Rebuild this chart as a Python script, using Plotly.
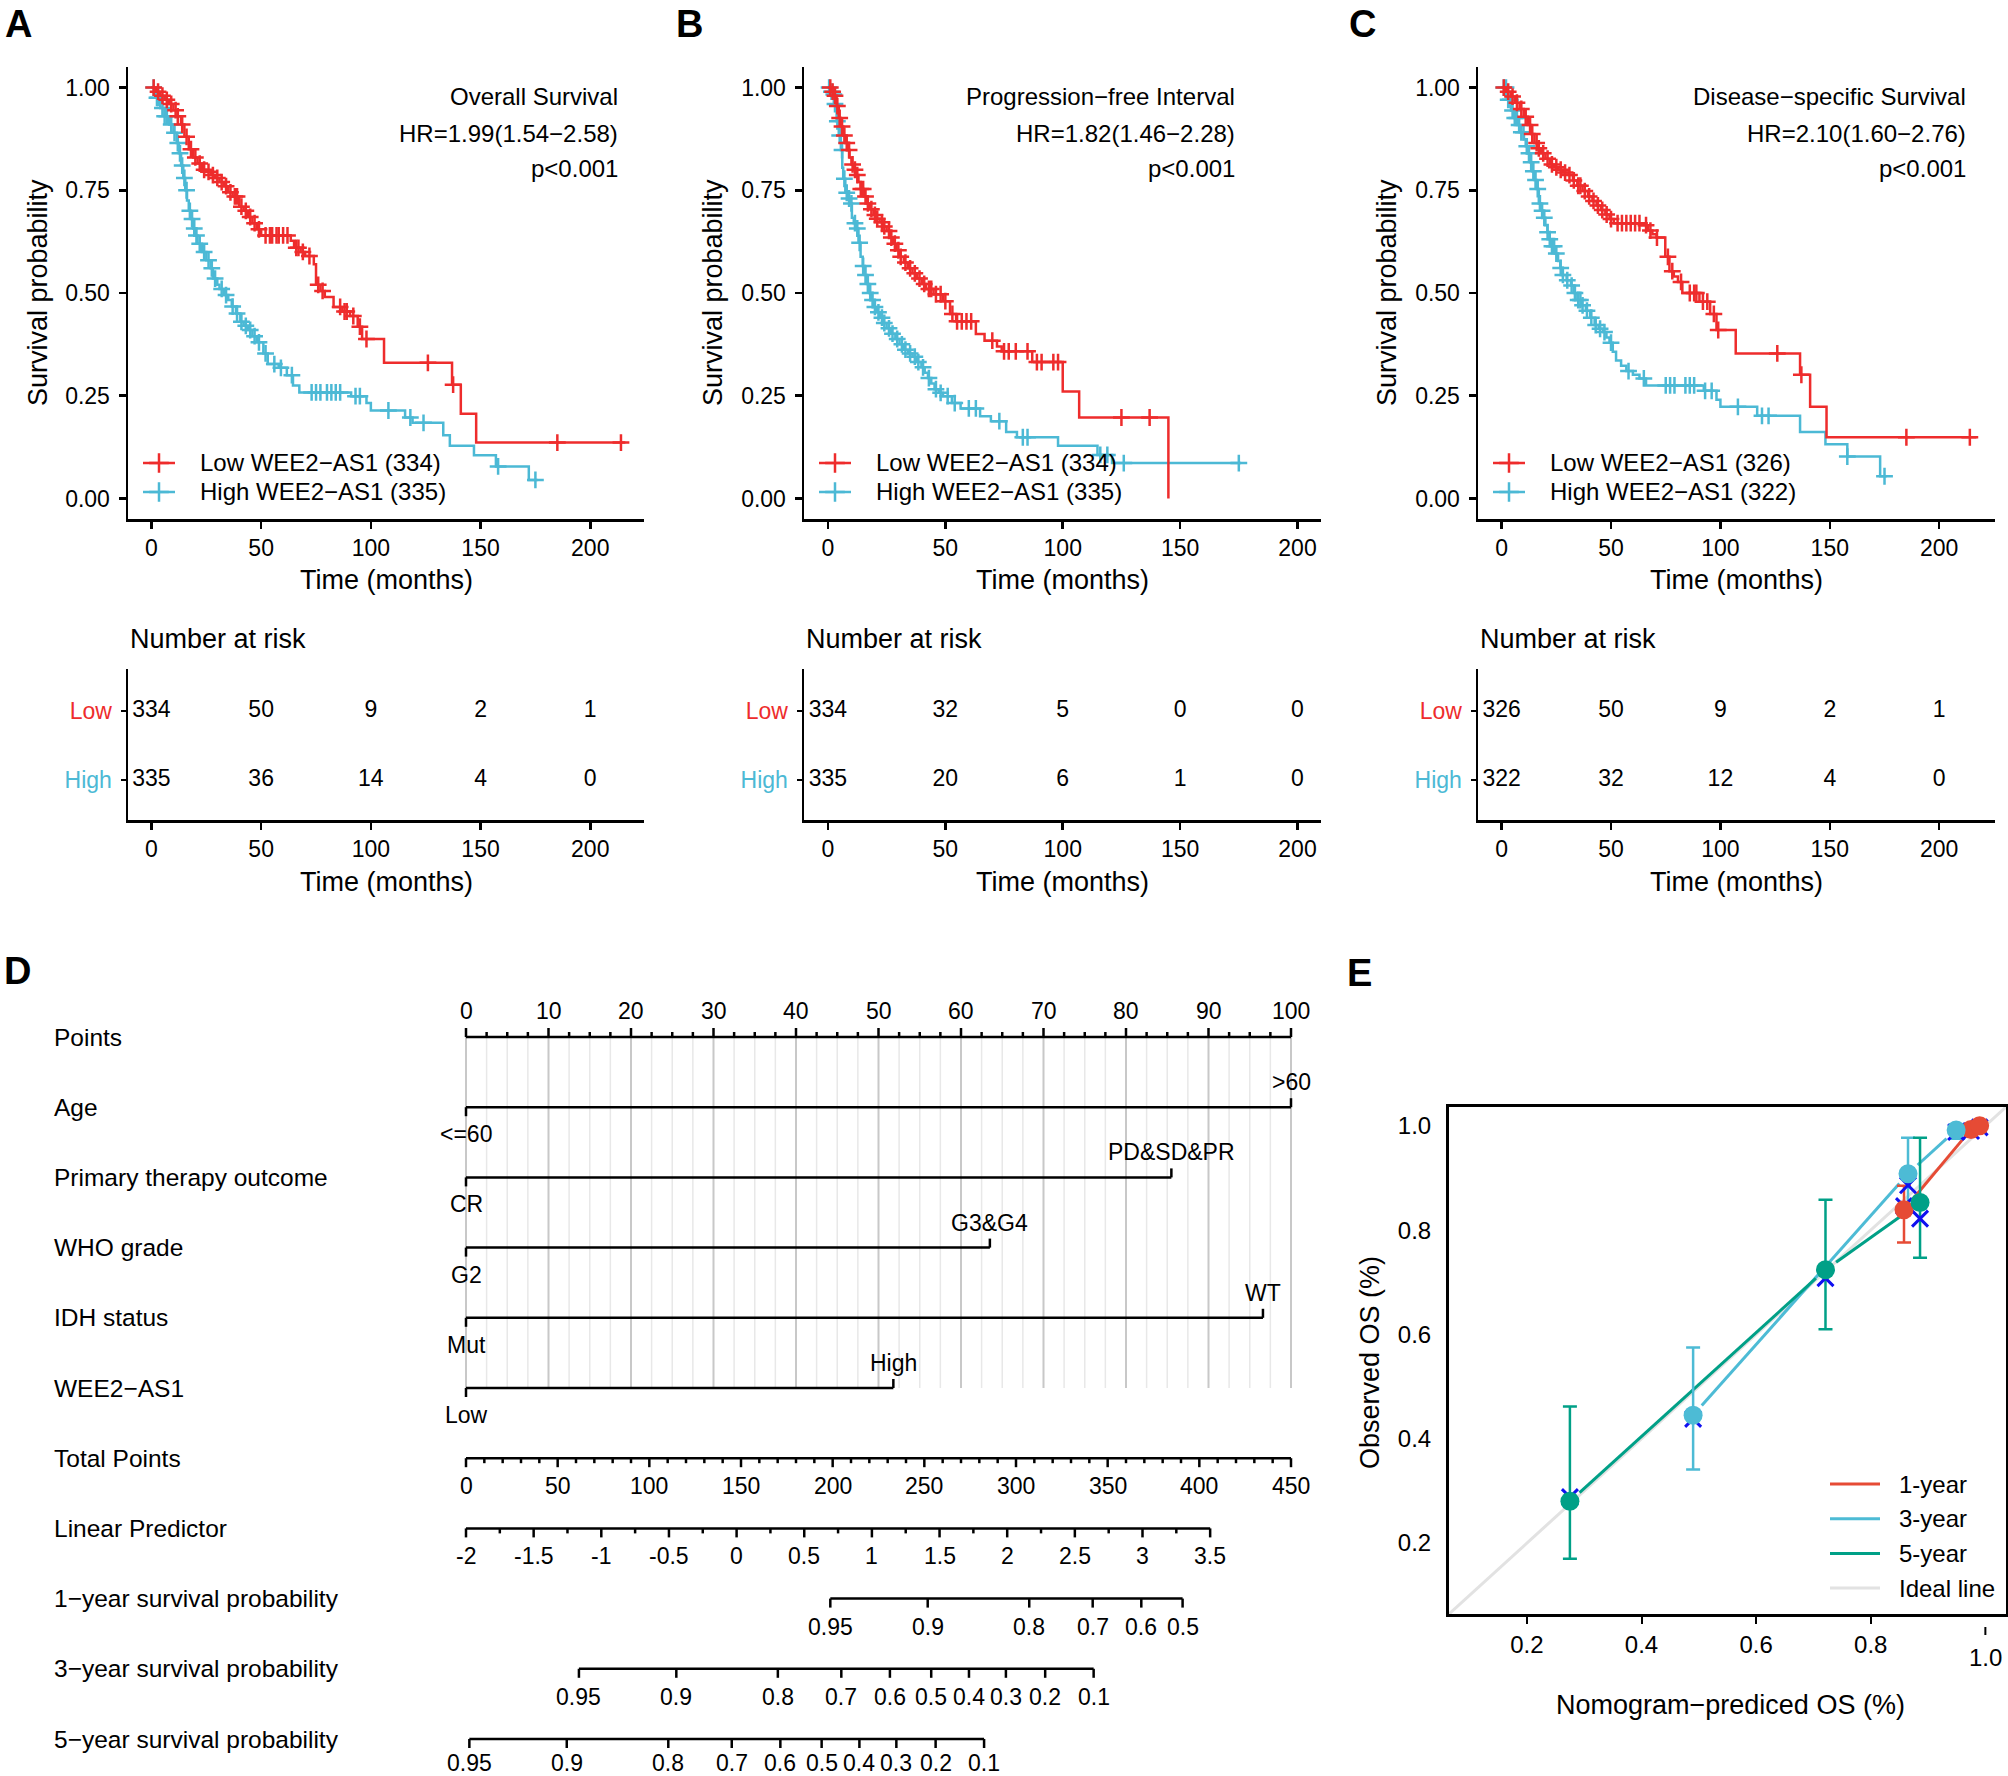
import numpy as np
import plotly.graph_objects as go

W, H = 2008, 1776
FONT = "Liberation Sans, Arial, Helvetica, sans-serif"
KM_RED = "#EE2C2C"
KM_BLUE = "#4CB9D5"
CAL_RED = "#E64B35"
CAL_BLUE = "#4DBBD5"
CAL_GREEN = "#00A087"
MINUS = "\u2212"

# ------------------------------------------------------------------ data
# Panel A : Overall survival
A_low_t = [0, 2, 4, 6, 8, 10, 12, 13.5, 15, 17, 19, 21, 23, 25, 27, 29, 31, 33, 35, 37, 40, 42, 44, 46, 48, 50,
           63.5, 65, 68, 70, 74, 75, 77, 79, 83, 87, 90.5, 94, 96, 106, 137, 141, 148]
A_low_s = [1.0, 0.99, 0.98, 0.97, 0.96, 0.945, 0.93, 0.91, 0.88, 0.85, 0.83, 0.815, 0.80, 0.795, 0.787, 0.78,
           0.77, 0.76, 0.745, 0.735, 0.71, 0.70, 0.685, 0.67, 0.655, 0.64, 0.627, 0.61, 0.60, 0.59, 0.57, 0.52,
           0.505, 0.49, 0.466, 0.455, 0.444, 0.418, 0.388, 0.33, 0.277, 0.206, 0.136]
A_low_end = 216
A_low_cens = [1, 3, 5, 7, 9, 11, 12, 14, 16, 18, 20, 22, 24, 26, 28, 30, 32, 34, 36, 38, 39, 41, 43, 45, 47, 49,
              52, 54, 55, 57, 58, 60, 62, 66, 67, 69, 72, 76, 78, 86, 88, 89, 92, 95, 98, 126, 137.5, 185, 214]
A_high_t = [0, 2, 4, 6, 8, 10, 11.5, 12.5, 13.5, 14.5, 15.4, 16.2, 17, 18, 19, 20, 21, 23, 25, 27, 28, 30, 31,
            33, 35, 36.6, 38.5, 40.5, 42, 44, 46, 48, 51, 53, 58, 61.7, 64.5, 67.4, 91, 98, 100, 115.6, 119, 133,
            136, 147, 157, 172]
A_high_s = [1.0, 0.975, 0.95, 0.93, 0.91, 0.89, 0.865, 0.84, 0.81, 0.78, 0.75, 0.725, 0.70, 0.68, 0.657, 0.64,
            0.62, 0.60, 0.58, 0.56, 0.535, 0.52, 0.51, 0.495, 0.483, 0.467, 0.45, 0.43, 0.42, 0.41, 0.395, 0.38,
            0.353, 0.327, 0.318, 0.30, 0.275, 0.258, 0.249, 0.232, 0.214, 0.197, 0.184, 0.154, 0.128, 0.105,
            0.078, 0.045]
A_high_end = 176
A_high_cens = [1, 2.5, 3, 5, 6, 7, 9, 10.5, 12, 13, 14, 15, 16, 17.5, 18.5, 19.5, 20.5, 22, 24, 26, 27.5, 29,
               32, 34, 37, 39, 41, 43, 45, 47, 49, 52, 56, 59, 64, 73, 75, 77, 80, 82, 84, 86, 93, 95, 108, 118,
               124, 158, 175]

# Panel B : Progression-free interval
B_low_t = [0, 1.5, 2.8, 3.7, 4.6, 5.5, 6.5, 7.4, 8.3, 9.2, 10, 11, 12, 13, 13.9, 15.3, 16.7, 18, 19.4, 20.7, 22,
           23.5, 25, 26.4, 27.8, 29.2, 30.6, 32.3, 34, 36, 38, 40, 41.7, 45, 49, 52, 54.6, 63, 66.7, 72, 74, 87,
           100, 107, 145]
B_low_s = [1.0, 0.99, 0.98, 0.955, 0.926, 0.905, 0.883, 0.865, 0.848, 0.83, 0.813, 0.80, 0.787, 0.77, 0.753,
           0.735, 0.718, 0.704, 0.69, 0.681, 0.672, 0.662, 0.651, 0.635, 0.62, 0.604, 0.588, 0.574, 0.56, 0.548,
           0.535, 0.522, 0.51, 0.497, 0.48, 0.449, 0.431, 0.40, 0.384, 0.37, 0.358, 0.332, 0.26, 0.197, 0.0]
B_low_end = 145
B_low_cens = [1, 2, 3, 4, 5, 6, 7, 8, 9, 10.5, 11.5, 12.5, 14, 15, 16, 17, 18.5, 20, 21, 23, 24, 26, 27, 28.5,
              30, 31, 33, 35, 37, 39, 41, 43, 44, 46, 48, 50, 53, 55, 57, 59, 61, 70, 75, 77, 80, 85, 89, 91, 96,
              98, 125, 137]
B_high_t = [0, 1, 1.9, 2.8, 3.7, 4.6, 5.5, 6.1, 6.5, 7.4, 8.3, 9.3, 10.2, 11, 12, 13, 13.9, 14.8, 15.7, 16.6,
            17.6, 18.5, 19.4, 20.8, 22.2, 23.6, 25, 26.8, 28.7, 30.5, 32.4, 34.2, 36, 37.9, 39.8, 41.2, 42.6, 44,
            45.4, 47.2, 49, 52.8, 56.5, 64.8, 69.4, 75.9, 80.5, 98, 114.8, 121]
B_high_s = [1.0, 0.99, 0.983, 0.96, 0.918, 0.883, 0.848, 0.805, 0.778, 0.744, 0.73, 0.718, 0.683, 0.67, 0.657,
            0.622, 0.588, 0.566, 0.544, 0.522, 0.5, 0.483, 0.466, 0.453, 0.44, 0.427, 0.414, 0.401, 0.388, 0.375,
            0.362, 0.353, 0.345, 0.332, 0.319, 0.306, 0.293, 0.28, 0.266, 0.257, 0.249, 0.232, 0.219, 0.2, 0.188,
            0.162, 0.149, 0.128, 0.106, 0.086]
B_high_end = 176
B_high_cens = [0.5, 1.5, 2.5, 3, 4, 5, 6, 7, 8, 9, 10, 11.5, 12.5, 13.5, 15, 16, 17, 18, 19, 20, 21.5, 23, 24,
               26, 27.5, 29.5, 31.5, 33, 35, 37, 38.5, 40.5, 43, 46, 48, 51, 54, 60, 63, 73, 83, 85, 116, 119, 126,
               175]

# Panel C : Disease-specific survival
C_low_t = [0, 2, 4.3, 6.2, 8.2, 10.1, 12, 13.5, 15, 16.5, 18, 20, 22, 24, 25.8, 28, 30.7, 32.6, 34.6, 37, 39.5,
           41.5, 43.4, 45.4, 47.4, 49.3, 51.3, 64, 66.9, 68.9, 70.8, 74.8, 76.7, 78.7, 80.6, 82.6, 90.4, 95.3,
           98.2, 107, 136.4, 141, 148.5]
C_low_s = [1.0, 0.99, 0.978, 0.963, 0.948, 0.929, 0.909, 0.887, 0.865, 0.852, 0.84, 0.827, 0.813, 0.806, 0.80,
           0.793, 0.787, 0.774, 0.761, 0.748, 0.735, 0.724, 0.713, 0.702, 0.691, 0.68, 0.67, 0.665, 0.652, 0.643,
           0.635, 0.588, 0.553, 0.54, 0.527, 0.50, 0.479, 0.449, 0.41, 0.353, 0.301, 0.223, 0.149]
C_low_end = 217
C_low_cens = [1, 3, 5, 7, 9, 11, 13, 14, 16, 17, 19, 21, 23, 25, 27, 29, 31, 33, 35, 36, 38, 40, 42, 44, 46, 48,
              50, 53, 55, 57, 59, 61, 63, 66, 68, 71, 76, 78, 82, 86, 88, 89, 92, 94, 97, 99, 126, 137, 185, 214]
C_high_t = [0, 2.3, 4.3, 5.8, 7.2, 8.7, 10.2, 11, 12, 13, 14, 15, 16, 17, 18, 19, 20, 20.9, 21.9, 22.9, 24.3,
            25.8, 26.8, 27.8, 29.7, 31.7, 33.1, 34.6, 36.5, 38.5, 40.5, 42.5, 44.4, 46.4, 47.9, 49.3, 50.8, 52.3,
            54.6, 57, 60, 63, 66, 92.4, 98.2, 100, 116.8, 136.4, 148, 158, 173]
C_high_s = [1.0, 0.97, 0.944, 0.926, 0.909, 0.891, 0.874, 0.857, 0.84, 0.818, 0.796, 0.775, 0.753, 0.718, 0.70,
            0.683, 0.665, 0.648, 0.631, 0.614, 0.596, 0.578, 0.561, 0.544, 0.531, 0.518, 0.50, 0.483, 0.47, 0.457,
            0.44, 0.422, 0.413, 0.405, 0.392, 0.379, 0.357, 0.336, 0.323, 0.31, 0.301, 0.292, 0.275, 0.262, 0.24,
            0.223, 0.201, 0.162, 0.132, 0.102, 0.054]
C_high_end = 176
C_high_cens = [1, 2, 3, 4, 5, 6, 7, 8, 9, 10, 11.5, 12.5, 13.5, 14.5, 15.5, 16.5, 17.5, 18.5, 19.5, 21, 22, 23,
               24, 25, 27, 28, 30, 32, 33.5, 35, 36, 37, 39, 41, 43, 45, 47, 50, 58, 65, 75, 77, 79, 84, 86, 88,
               93, 96, 108, 119, 122, 158, 175]

KM_TITLES = ["Overall Survival", "Progression" + MINUS + "free Interval", "Disease" + MINUS + "specific Survival"]
KM_HR = ["HR=1.99(1.54" + MINUS + "2.58)", "HR=1.82(1.46" + MINUS + "2.28)", "HR=2.10(1.60" + MINUS + "2.76)"]
KM_P = ["p<0.001", "p<0.001", "p<0.001"]
KM_N_LOW = [334, 334, 326]
KM_N_HIGH = [335, 335, 322]

RISK_TIMES = [0, 50, 100, 150, 200]
A_risk_low = [334, 50, 9, 2, 1]
A_risk_high = [335, 36, 14, 4, 0]
B_risk_low = [334, 32, 5, 0, 0]
B_risk_high = [335, 20, 6, 1, 0]
C_risk_low = [326, 50, 9, 2, 1]
C_risk_high = [322, 32, 12, 4, 0]

# Panel D : nomogram
NOM_VARS = ["Age", "Primary therapy outcome", "WHO grade", "IDH status", "WEE2" + MINUS + "AS1"]
NOM_MAX_POINTS = [100, 85.5, 63.5, 96.6, 51.8]
NOM_LOW_LEVEL = ["<=60", "CR", "G2", "Mut", "Low"]
NOM_HIGH_LEVEL = [">60", "PD&SD&PR", "G3&G4", "WT", "High"]
POINTS_MAX = 100
TOTAL_MAX = 450
LP_AT_TP0 = -2.0
TP_PER_LP = 73.8
LP_TICKS = [-2, -1.5, -1, -0.5, 0, 0.5, 1, 1.5, 2, 2.5, 3, 3.5]
BASE_CUMHAZ = [0.02566, 0.1645, 0.3697]   # 1-, 3-, 5-year baseline cumulative hazard
SURV_LABELS = ["1" + MINUS + "year survival probability", "3" + MINUS + "year survival probability",
               "5" + MINUS + "year survival probability"]
SURV_TICKS_1Y = [0.95, 0.9, 0.8, 0.7, 0.6, 0.5]
SURV_TICKS_3Y = [0.95, 0.9, 0.8, 0.7, 0.6, 0.5, 0.4, 0.3, 0.2, 0.1]
SURV_TICKS_5Y = [0.95, 0.9, 0.8, 0.7, 0.6, 0.5, 0.4, 0.3, 0.2, 0.1]

# Panel E : calibration
CAL_1Y_PRED = [0.858, 0.975, 0.990]
CAL_1Y_OBS = [0.839, 0.993, 1.000]
CAL_1Y_LO = [0.776, 0.985, 0.995]
CAL_1Y_HI = [0.885, 1.000, 1.000]
CAL_1Y_CORR = [0.846, 0.990, 0.997]
CAL_3Y_PRED = [0.490, 0.865, 0.949]
CAL_3Y_OBS = [0.445, 0.908, 0.992]
CAL_3Y_LO = [0.341, 0.843, 0.975]
CAL_3Y_HI = [0.575, 0.977, 1.000]
CAL_3Y_CORR = [0.438, 0.886, 0.988]
CAL_5Y_PRED = [0.275, 0.721, 0.886]
CAL_5Y_OBS = [0.280, 0.724, 0.853]
CAL_5Y_LO = [0.170, 0.610, 0.747]
CAL_5Y_HI = [0.462, 0.858, 0.977]
CAL_5Y_CORR = [0.288, 0.708, 0.822]
CAL_LEGEND = ["1-year", "3-year", "5-year", "Ideal line"]


# ------------------------------------------------------------------ helpers
def PX(x):
    return x / W


def PY(y):
    return 1 - y / H


fig = go.Figure()
annotations = []
shapes = []
layout_axes = {}


def ann(text, x, y, xref="paper", yref="paper", size=24, xanchor="center", yanchor="middle", color="black",
        angle=0, bold=False):
    annotations.append(dict(text=("<b>%s</b>" % text) if bold else text, x=x, y=y, xref=xref, yref=yref,
                            showarrow=False, xanchor=xanchor, yanchor=yanchor, textangle=angle,
                            font=dict(size=size, color=color, family=FONT)))


# pixel overlay axis (9) for legend glyphs
layout_axes["xaxis9"] = dict(domain=[0, 1], range=[0, W], visible=False, anchor="y9", fixedrange=True)
layout_axes["yaxis9"] = dict(domain=[0, 1], range=[H, 0], visible=False, anchor="x9", fixedrange=True)

# ------------------------------------------------------------------ KM panels
KM_LAYOUT = [
    dict(x0=128, x1=644, xr=[-10.7, 224.5], tx=620, ytitle_x=38, letter="A", lx=18),
    dict(x0=804, x1=1321, xr=[-10.2, 210.0], tx=1237, ytitle_x=713, letter="B", lx=689),
    dict(x0=1478, x1=1995, xr=[-10.8, 225.5], tx=1968, ytitle_x=1387, letter="C", lx=1362),
]
KM_DATA = [
    (A_low_t, A_low_s, A_low_end, A_low_cens, A_high_t, A_high_s, A_high_end, A_high_cens, A_risk_low, A_risk_high),
    (B_low_t, B_low_s, B_low_end, B_low_cens, B_high_t, B_high_s, B_high_end, B_high_cens, B_risk_low, B_risk_high),
    (C_low_t, C_low_s, C_low_end, C_low_cens, C_high_t, C_high_s, C_high_end, C_high_cens, C_risk_low, C_risk_high),
]


def step_xy(t, s, end):
    x, y = list(t), list(s)
    if end > t[-1]:
        x.append(end)
        y.append(s[-1])
    return x, y


def cens_y(t, s, c):
    idx = np.searchsorted(np.array(t, float), np.array(c, float), side="right") - 1
    return list(np.array(s, float)[idx])


axis_line = dict(showline=True, linecolor="black", linewidth=2.5, ticks="outside", ticklen=7, tickwidth=2.5,
                 tickcolor="black", showgrid=False, zeroline=False, fixedrange=True)

for i, (lay, dat) in enumerate(zip(KM_LAYOUT, KM_DATA)):
    lt, ls, le, lc, ht, hs, he, hc, rl, rh = dat
    k = i + 1          # KM axis index
    r = i + 4          # risk-table axis index
    xd = [PX(lay["x0"]), PX(lay["x1"])]
    layout_axes["xaxis%d" % k] = dict(axis_line, domain=xd, range=lay["xr"], anchor="y%d" % k,
                                      tickvals=RISK_TIMES, tickfont=dict(size=23, color="black"),
                                      ticklabelstandoff=0)
    layout_axes["yaxis%d" % k] = dict(axis_line, domain=[PY(519), PY(67)], range=[-0.05, 1.05], anchor="x%d" % k,
                                      tickvals=[0, 0.25, 0.5, 0.75, 1.0],
                                      ticktext=["0.00", "0.25", "0.50", "0.75", "1.00"],
                                      tickfont=dict(size=23, color="black"), ticklabelstandoff=4)
    layout_axes["xaxis%d" % r] = dict(axis_line, domain=xd, range=lay["xr"], anchor="y%d" % r,
                                      tickvals=RISK_TIMES, tickfont=dict(size=23, color="black"),
                                      ticklabelstandoff=0)
    layout_axes["yaxis%d" % r] = dict(axis_line, domain=[PY(820), PY(669)], range=[0.42, 2.61], anchor="x%d" % r,
                                      tickvals=[1, 2],
                                      ticktext=['<span style="color:%s">High</span>' % KM_BLUE,
                                                '<span style="color:%s">Low</span>' % KM_RED],
                                      tickfont=dict(size=23), ticklen=5, ticklabelstandoff=4)
    xa, ya = "x%d" % k, "y%d" % k
    for (t, s, e, c, col) in [(ht, hs, he, hc, KM_BLUE), (lt, ls, le, lc, KM_RED)]:
        x, y = step_xy(t, s, e)
        fig.add_trace(go.Scatter(x=x, y=y, mode="lines", line=dict(color=col, width=2.5, shape="hv"),
                                 xaxis=xa, yaxis=ya, hoverinfo="skip"))
        fig.add_trace(go.Scatter(x=c, y=cens_y(t, s, c), mode="markers", xaxis=xa, yaxis=ya, hoverinfo="skip",
                                 marker=dict(symbol="cross-thin", size=12, line=dict(color=col, width=2.5))))
    # risk table numbers
    fig.add_trace(go.Scatter(x=RISK_TIMES, y=[2] * len(rl), mode="text", text=[str(v) for v in rl],
                             textfont=dict(size=23, color="black", family=FONT), xaxis="x%d" % r,
                             yaxis="y%d" % r, hoverinfo="skip", cliponaxis=False))
    fig.add_trace(go.Scatter(x=RISK_TIMES, y=[1] * len(rh), mode="text", text=[str(v) for v in rh],
                             textfont=dict(size=23, color="black", family=FONT), xaxis="x%d" % r,
                             yaxis="y%d" % r, hoverinfo="skip", cliponaxis=False))
    # annotations
    ann(KM_TITLES[i], PX(lay["tx"]), PY(96), xanchor="right")
    ann(KM_HR[i], PX(lay["tx"]), PY(133), xanchor="right")
    ann(KM_P[i], PX(lay["tx"]), PY(169), xanchor="right")
    ann("Survival probability", PX(lay["ytitle_x"]), PY(293), size=27, angle=-90)
    xc = PX((lay["x0"] + lay["x1"]) / 2)
    ann("Time (months)", xc, PY(580), size=27)
    ann("Time (months)", xc, PY(882), size=27)
    ann("Number at risk", PX(lay["x0"]), PY(639), size=27, xanchor="left")
    ann(lay["letter"], PX(lay["lx"]), PY(24), size=38, bold=True)
    # legend
    for (lbl, n, col, yy) in [("Low", KM_N_LOW[i], KM_RED, 463), ("High", KM_N_HIGH[i], KM_BLUE, 492)]:
        gx0, gx1 = lay["x0"] + 15, lay["x0"] + 47
        fig.add_trace(go.Scatter(x=[gx0, gx1], y=[yy, yy], mode="lines", line=dict(color=col, width=2.5),
                                 xaxis="x9", yaxis="y9", hoverinfo="skip"))
        fig.add_trace(go.Scatter(x=[(gx0 + gx1) / 2], y=[yy], mode="markers", xaxis="x9", yaxis="y9",
                                 hoverinfo="skip",
                                 marker=dict(symbol="cross-thin", size=14, line=dict(color=col, width=2.5))))
        ann("%s WEE2%sAS1 (%d)" % (lbl, MINUS, n), PX(lay["x0"] + 70), PY(yy), xanchor="left")

# ------------------------------------------------------------------ nomogram (D)
ROW0_PX, ROW_SP = 1037.0, 70.2
NOM_PX0, NOM_PX1 = 466.0, 1291.0
px_per_tp = (NOM_PX1 - NOM_PX0) / TOTAL_MAX
layout_axes["xaxis7"] = dict(domain=[PX(440), PX(1330)],
                             range=[(440 - NOM_PX0) / px_per_tp, (1330 - NOM_PX0) / px_per_tp],
                             visible=False, anchor="y7", fixedrange=True)
layout_axes["yaxis7"] = dict(domain=[0, PY(940)], range=[(H - ROW0_PX) / ROW_SP, (940 - ROW0_PX) / ROW_SP],
                             visible=False, anchor="x7", fixedrange=True)
MAJ, MIN = 9 / ROW_SP, 5 / ROW_SP
LAB_UP, LAB_DN = 26 / ROW_SP, 28 / ROW_SP
PT2TP = TOTAL_MAX / POINTS_MAX


def seg_trace(segs, color="black", width=2.5):
    xs, ys = [], []
    for (x0, y0, x1, y1) in segs:
        xs += [x0, x1, None]
        ys += [y0, y1, None]
    fig.add_trace(go.Scatter(x=xs, y=ys, mode="lines", line=dict(color=color, width=width), xaxis="x7",
                             yaxis="y7", hoverinfo="skip", cliponaxis=False))


def nann(text, x, y, size=23):
    ann(text, x, y, xref="x7", yref="y7", size=size)


# grid
grid_pts = np.arange(0, POINTS_MAX + 0.01, 2.5)
n_rows_var = len(NOM_VARS)
seg_trace([(p * PT2TP, 0, p * PT2TP, n_rows_var) for p in grid_pts if p % 10 != 0], color="#E8E8E8", width=1.5)
seg_trace([(p * PT2TP, 0, p * PT2TP, n_rows_var) for p in grid_pts if p % 10 == 0], color="#C8C8C8", width=2)

rows_labels = ["Points"] + NOM_VARS + ["Total Points", "Linear Predictor"] + SURV_LABELS
for ri, lbl in enumerate(rows_labels):
    ann(lbl, PX(52), ri, yref="y7", size=24.5, xanchor="left")

segs = []
# points axis (row 0)
segs.append((0, 0, POINTS_MAX * PT2TP, 0))
for p in grid_pts:
    segs.append((p * PT2TP, 0, p * PT2TP, -(MAJ if p % 10 == 0 else MIN)))
for p in range(0, POINTS_MAX + 1, 10):
    nann(str(p), p * PT2TP, -LAB_UP)
# variables
for vi, (mx, lo, hi) in enumerate(zip(NOM_MAX_POINTS, NOM_LOW_LEVEL, NOM_HIGH_LEVEL)):
    rr = vi + 1
    end = mx * PT2TP
    segs.append((0, rr, end, rr))
    segs.append((0, rr, 0, rr + MAJ))
    segs.append((end, rr, end, rr - MAJ))
    nann(lo, 0, rr + LAB_DN - 1 / ROW_SP)
    nann(hi, end, rr - LAB_UP + 1 / ROW_SP)
# total points
rr = n_rows_var + 1
segs.append((0, rr, TOTAL_MAX, rr))
for tp in range(0, TOTAL_MAX + 1, 10):
    segs.append((tp, rr, tp, rr + (MAJ if tp % 50 == 0 else MIN)))
for tp in range(0, TOTAL_MAX + 1, 50):
    nann(str(tp), tp, rr + LAB_DN)
# linear predictor
rr += 1


def lp_to_tp(lp):
    return (lp - LP_AT_TP0) * TP_PER_LP


segs.append((lp_to_tp(LP_TICKS[0]), rr, lp_to_tp(LP_TICKS[-1]), rr))
for j, lp in enumerate(LP_TICKS):
    segs.append((lp_to_tp(lp), rr, lp_to_tp(lp), rr + MAJ))
    if j < len(LP_TICKS) - 1:
        mid = (lp + LP_TICKS[j + 1]) / 2
        segs.append((lp_to_tp(mid), rr, lp_to_tp(mid), rr + MIN))
    nann(("%g" % lp), lp_to_tp(lp), rr + LAB_DN)
# survival rows
surv_rows = [SURV_TICKS_1Y, SURV_TICKS_3Y, SURV_TICKS_5Y]
for si, ticks in enumerate(surv_rows):
    rr += 1
    tps = [lp_to_tp(np.log(-np.log(s) / BASE_CUMHAZ[si])) for s in ticks]
    segs.append((min(tps), rr, max(tps), rr))
    lab_off = LAB_DN if si < len(surv_rows) - 1 else 24 / ROW_SP
    for s, tp in zip(ticks, tps):
        segs.append((tp, rr, tp, rr + MAJ))
        nann("%g" % s, tp, rr + lab_off)
seg_trace(segs, color="black", width=2.5)
ann("D", PX(17), PY(971), size=38, bold=True)

# ------------------------------------------------------------------ calibration (E)
CAL_R = [0.064, 1.036]
E_X0, E_X1, E_Y0, E_Y1 = 1449, 2006, 1107, 1614
layout_axes["xaxis8"] = dict(domain=[PX(E_X0), PX(E_X1)], range=CAL_R, anchor="y8", showline=True, mirror=True,
                             linecolor="black", linewidth=3, ticks="outside", ticklen=7, tickwidth=2,
                             tickcolor="black", tickvals=[0.2, 0.4, 0.6, 0.8], showgrid=False, zeroline=False,
                             tickfont=dict(size=24, color="black"), ticklabelstandoff=0, fixedrange=True)
layout_axes["yaxis8"] = dict(domain=[PY(E_Y1), PY(E_Y0)], range=CAL_R, anchor="x8", showline=True, mirror=True,
                             linecolor="black", linewidth=3, ticks="", tickvals=[0.2, 0.4, 0.6, 0.8, 1.0],
                             ticktext=["0.2", "0.4", "0.6", "0.8", "1.0"], showgrid=False, zeroline=False,
                             tickfont=dict(size=24, color="black"), ticklabelstandoff=10, fixedrange=True)
sx = (E_X1 - E_X0) / (CAL_R[1] - CAL_R[0])
sy = (E_Y1 - E_Y0) / (CAL_R[1] - CAL_R[0])

# ideal line
fig.add_trace(go.Scatter(x=CAL_R, y=CAL_R, mode="lines", line=dict(color="#E2E2E2", width=3), xaxis="x8",
                         yaxis="y8", hoverinfo="skip"))

cal_series = [
    (CAL_1Y_PRED, CAL_1Y_OBS, CAL_1Y_LO, CAL_1Y_HI, CAL_1Y_CORR, CAL_RED),
    (CAL_3Y_PRED, CAL_3Y_OBS, CAL_3Y_LO, CAL_3Y_HI, CAL_3Y_CORR, CAL_BLUE),
    (CAL_5Y_PRED, CAL_5Y_OBS, CAL_5Y_LO, CAL_5Y_HI, CAL_5Y_CORR, CAL_GREEN),
]
GAP = 13.0
for (xp, yo, lo, hi, corr, col) in cal_series:
    xs, ys = [], []
    for j in range(len(xp) - 1):
        dxp = (xp[j + 1] - xp[j]) * sx
        dyp = (yo[j + 1] - yo[j]) * sy
        L = np.hypot(dxp, dyp)
        if L <= 2 * GAP:
            continue
        f = GAP / L
        xs += [xp[j] + f * (xp[j + 1] - xp[j]), xp[j + 1] - f * (xp[j + 1] - xp[j]), None]
        ys += [yo[j] + f * (yo[j + 1] - yo[j]), yo[j + 1] - f * (yo[j + 1] - yo[j]), None]
    fig.add_trace(go.Scatter(x=xs, y=ys, mode="lines", line=dict(color=col, width=3), xaxis="x8", yaxis="y8",
                             hoverinfo="skip"))
for (xp, yo, lo, hi, corr, col) in cal_series:
    fig.add_trace(go.Scatter(x=xp, y=yo, mode="markers", marker=dict(size=1, color=col, opacity=0),
                             error_y=dict(type="data", symmetric=False,
                                          array=[h - o for h, o in zip(hi, yo)],
                                          arrayminus=[o - l for o, l in zip(yo, lo)],
                                          color=col, thickness=2.5, width=7),
                             xaxis="x8", yaxis="y8", hoverinfo="skip"))
for (xp, yo, lo, hi, corr, col) in cal_series:
    fig.add_trace(go.Scatter(x=xp, y=corr, mode="markers", xaxis="x8", yaxis="y8", hoverinfo="skip",
                             marker=dict(symbol="x-thin", size=16, line=dict(color="#1010F0", width=3))))
for (xp, yo, lo, hi, corr, col) in cal_series:
    fig.add_trace(go.Scatter(x=xp, y=yo, mode="markers", xaxis="x8", yaxis="y8", hoverinfo="skip",
                             marker=dict(symbol="circle", size=19, color=col, line=dict(width=0))))

# x label 1.0 placed lower with short tick
ann("1.0", 1.0, PY(1657), xref="x8", size=24)
shapes.append(dict(type="line", xref="x8", yref="paper", x0=1.0, x1=1.0, y0=PY(1627), y1=PY(1635),
                   line=dict(color="black", width=2)))
ann("Observed OS (%)", PX(1370), PY(1363), size=27, angle=-90)
ann("Nomogram" + MINUS + "prediced OS (%)", PX(1730), PY(1705), size=27)
ann("E", PX(1359), PY(973), size=38, bold=True)

# legend E
leg_cols = [CAL_RED, CAL_BLUE, CAL_GREEN, "#E2E2E2"]
for li, (lbl, col) in enumerate(zip(CAL_LEGEND, leg_cols)):
    yy = 1484 + li * 34.7
    fig.add_trace(go.Scatter(x=[1830, 1880], y=[yy, yy], mode="lines", line=dict(color=col, width=3),
                             xaxis="x9", yaxis="y9", hoverinfo="skip"))
    ann(lbl, PX(1897), PY(yy), size=24, xanchor="left")

fig.update_layout(width=W, height=H, margin=dict(l=0, r=0, t=0, b=0), paper_bgcolor="white",
                  plot_bgcolor="rgba(0,0,0,0)", showlegend=False, font=dict(family=FONT, color="black"),
                  annotations=annotations, shapes=shapes, hovermode=False, **layout_axes)
fig.write_html("out.html", config={"displayModeBar": False, "staticPlot": True},
               post_script="document.body.style.margin='0px';document.body.style.overflow='hidden';")
